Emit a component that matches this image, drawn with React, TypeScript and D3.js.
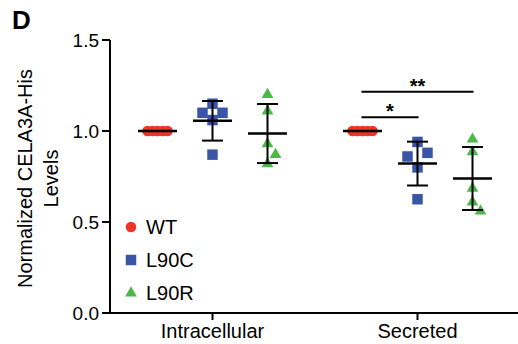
import React from 'react';
import * as d3 from 'd3';

// Categories and groups
const categories = ['Intracellular', 'Secreted'];
const groups = ['WT', 'L90C', 'L90R'];

// Values
const intraWT = [1, 1, 1, 1, 1];
const intraL90C = [1.15, 1.10, 1.10, 1.06, 0.87];
const intraL90R = [1.20, 1.11, 0.93, 0.87, 0.82];
const secWT = [1, 1, 1, 1, 1];
const secL90C = [0.94, 0.88, 0.86, 0.80, 0.625];
const secL90R = [0.955, 0.885, 0.685, 0.61, 0.56];

const yTicks = [0, 0.5, 1.0, 1.5];

const comparisons = [
  { category: 'Secreted', from: 'WT', to: 'L90C', level: 1.075, label: '*' },
  { category: 'Secreted', from: 'WT', to: 'L90R', level: 1.215, label: '**' },
];

const colors: Record<string, string> = { WT: '#EE3426', L90C: '#3A55A5', L90R: '#4DB84A' };

const seriesData: { category: string; group: string; values: number[] }[] = [
  { category: 'Intracellular', group: 'WT', values: intraWT },
  { category: 'Intracellular', group: 'L90C', values: intraL90C },
  { category: 'Intracellular', group: 'L90R', values: intraL90R },
  { category: 'Secreted', group: 'WT', values: secWT },
  { category: 'Secreted', group: 'L90C', values: secL90C },
  { category: 'Secreted', group: 'L90R', values: secL90R },
];

const FONT = '"Liberation Sans", Arial, Helvetica, sans-serif';

const symbolFor = (group: string) => {
  if (group === 'WT') return d3.symbol(d3.symbolCircle, 88)();
  if (group === 'L90C') return d3.symbol(d3.symbolSquare, 110)();
  return d3.symbol(d3.symbolTriangle, 60)();
};

// simple column-based spreading so overlapping points sit side by side
const spread = (ys: number[], step: number, minGap: number) => {
  const order = ys.map((v, i) => i).sort((a, b) => ys[a] - ys[b]);
  const placed: { y: number; col: number }[] = [];
  const offsets = new Array(ys.length).fill(0);
  const cols = [0, 1, -1, 2, -2, 3, -3];
  order.forEach(i => {
    const col = cols.find(c => placed.filter(p => p.col === c).every(p => Math.abs(p.y - ys[i]) >= minGap)) ?? 0;
    placed.push({ y: ys[i], col });
    offsets[i] = col * step;
  });
  return offsets;
};

export default function App() {
  const width = 518;
  const height = 344;

  const x = d3.scaleBand().domain(categories).range([110, 520]);
  const g = d3.scalePoint().domain(groups).range([-55, 55]);
  const y = d3.scaleLinear().domain([0, 1.5]).range([313, 40]);

  const cx = (cat: string, grp: string) => (x(cat) ?? 0) + x.bandwidth() / 2 + (g(grp) ?? 0);

  return (
    <svg width={width} height={height} style={{ position: 'absolute', left: 0, top: 0, background: '#fff' }} fontFamily={FONT}>
      <text x={12} y={29} fontSize={26} fontWeight="bold">D</text>

      {/* y axis */}
      <line x1={110} x2={110} y1={y(1.5)} y2={y(0)} stroke="#000" strokeWidth={2} />
      {yTicks.map(t => (
        <g key={t}>
          <line x1={102} x2={110} y1={y(t)} y2={y(t)} stroke="#000" strokeWidth={2} />
          <text x={99} y={y(t)} dy="0.36em" textAnchor="end" fontSize={19}>{t.toFixed(1)}</text>
        </g>
      ))}
      <text transform={`translate(25, ${y(0.75) + 2}) rotate(-90)`} textAnchor="middle" fontSize={20} dy="0.36em">Normalized CELA3A-His</text>
      <text transform={`translate(51, ${y(0.75) + 2}) rotate(-90)`} textAnchor="middle" fontSize={20} dy="0.36em">Levels</text>

      {/* x axis */}
      <line x1={109} x2={518} y1={y(0)} y2={y(0)} stroke="#000" strokeWidth={2} />
      {categories.map(c => {
        const px = (x(c) ?? 0) + x.bandwidth() / 2;
        return (
          <g key={c}>
            <line x1={px} x2={px} y1={y(0)} y2={y(0) + 7} stroke="#000" strokeWidth={2} />
            <text x={px} y={338} textAnchor="middle" fontSize={20}>{c}</text>
          </g>
        );
      })}

      {/* points */}
      {seriesData.map(s => {
        const ys = s.values.map(v => y(v));
        const offs = s.group === 'WT' ? spread(ys, 5, 20) : s.group === 'L90C' ? spread(ys, 10, 15) : spread(ys, 8, 12);
        return s.values.map((v, i) => (
          <path
            key={`${s.category}-${s.group}-${i}`}
            d={symbolFor(s.group) ?? ''}
            transform={`translate(${cx(s.category, s.group) + offs[i]}, ${y(v)})`}
            fill={colors[s.group]}
          />
        ));
      })}

      {/* mean and SD */}
      {seriesData.map(s => {
        const m = d3.mean(s.values) ?? 0;
        const sd = d3.deviation(s.values) ?? 0;
        const px = cx(s.category, s.group);
        return (
          <g key={`bar-${s.category}-${s.group}`} stroke="#000">
            <line x1={px - 19.5} x2={px + 19.5} y1={y(m)} y2={y(m)} strokeWidth={2.5} />
            {sd > 0 && (
              <>
                <line x1={px} x2={px} y1={y(m + sd)} y2={y(m - sd)} strokeWidth={2} />
                <line x1={px - 10.5} x2={px + 10.5} y1={y(m + sd)} y2={y(m + sd)} strokeWidth={2} />
                <line x1={px - 10.5} x2={px + 10.5} y1={y(m - sd)} y2={y(m - sd)} strokeWidth={2} />
              </>
            )}
          </g>
        );
      })}

      {/* significance */}
      {comparisons.map(c => {
        const x1 = cx(c.category, c.from) - 1;
        const x2 = cx(c.category, c.to) + 1;
        return (
          <g key={c.label}>
            <line x1={x1} x2={x2} y1={y(c.level)} y2={y(c.level)} stroke="#000" strokeWidth={2} />
            <text x={(x1 + x2) / 2} y={y(c.level) + 1} textAnchor="middle" fontSize={20} fontWeight="bold">{c.label}</text>
          </g>
        );
      })}

      {/* legend */}
      {groups.map((grp, i) => (
        <g key={grp} transform={`translate(131, ${227 + i * 33})`}>
          <path d={symbolFor(grp) ?? ''} fill={colors[grp]} />
          <text x={15} y={0} dy="0.36em" fontSize={20}>{grp}</text>
        </g>
      ))}
    </svg>
  );
}
